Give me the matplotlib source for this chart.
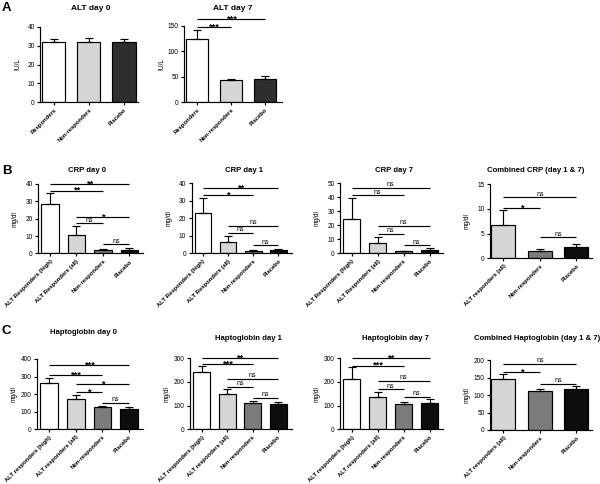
import matplotlib
matplotlib.use('Agg')
import matplotlib.pyplot as plt
import numpy as np

plt.rcParams['font.family'] = ['Liberation Sans', 'DejaVu Sans']

W, H = 600, 484
fig = plt.figure(figsize=(6, 4.84), dpi=100)

# ---------------- data ----------------
alt_groups = ["Responders", "Non-responders", "Placebo"]
alt_day0 = [31.7, 32.1, 31.7]
alt_day0_sem = [1.9, 1.9, 1.9]
alt_day7 = [125, 43, 45]
alt_day7_sem = [18, 2, 6]
sig_alt_day7 = [(0, 2, 163, '***'), (0, 1, 148.6, '***')]

grp4_crp = ["ALT Responders (high)", "ALT Responders (all)", "Non-responders", "Placebo"]
grp4_hap = ["ALT responders (high)", "ALT responders (all)", "Non-responders", "Placebo"]
grp3 = ["ALT responders (all)", "Non-responders", "Placebo"]

crp_day0 = [28.4, 10.7, 2.3, 2.0]
crp_day0_sem = [6.3, 5.2, 0.4, 1.4]
sig_crp_day0 = [(0, 3, 39.9, '**'), (0, 2, 36.2, '**'), (1, 3, 21.1, '*'),
                (1, 2, 17.5, 'ns'), (2, 3, 5.4, 'ns')]

crp_day1 = [23.2, 6.3, 1.3, 1.9]
crp_day1_sem = [8.6, 3.6, 0.5, 0.4]
sig_crp_day1 = [(0, 3, 37.1, '**'), (0, 2, 33.1, '*'), (1, 3, 15.6, 'ns'),
                (1, 2, 11.8, 'ns'), (2, 3, 4.6, 'ns')]

crp_day7 = [24.8, 7.6, 1.4, 2.7]
crp_day7_sem = [14.9, 4.3, 0.6, 0.8]
sig_crp_day7 = [(0, 3, 46.9, 'ns'), (0, 2, 41.6, 'ns'), (1, 3, 19.7, 'ns'),
                (1, 2, 13.8, 'ns'), (2, 3, 5.7, 'ns')]

crp_comb = [6.8, 1.5, 2.35]
crp_comb_sem = [2.9, 0.3, 0.45]
sig_crp_comb = [(0, 2, 12.4, 'ns'), (0, 1, 10.1, '*'), (1, 2, 4.3, 'ns')]

hap_day0 = [261, 170, 127, 115]
hap_day0_sem = [32, 28, 6, 12]
sig_hap_day0 = [(0, 3, 365, '***'), (0, 2, 310, '***'), (1, 3, 256, '*'),
                (1, 2, 210, '*'), (2, 3, 151, 'ns')]

hap_day1 = [241, 149, 110, 105]
hap_day1_sem = [26, 21, 9, 9]
sig_hap_day1 = [(0, 3, 302, '**'), (0, 2, 274.6, '***'), (1, 3, 212.5, 'ns'),
                (1, 2, 180, 'ns'), (2, 3, 133.5, 'ns')]

hap_day7 = [211, 138, 107, 112]
hap_day7_sem = [52, 18, 8, 14]
sig_hap_day7 = [(0, 3, 300, '**'), (0, 2, 269, '***'), (1, 3, 205, 'ns'),
                (1, 2, 169, 'ns'), (2, 3, 138, 'ns')]

hap_comb = [145, 111, 117]
hap_comb_sem = [14, 6, 9]
sig_hap_comb = [(0, 2, 190, 'ns'), (0, 1, 165, '*'), (1, 2, 132, 'ns')]

# ---------------- styles ----------------
WHITE, LGRAY, MGRAY, BLACK, DGRAY = '#ffffff', '#d5d5d5', '#7b7b7b', '#0d0d0d', '#2e2e2e'
col_alt = [WHITE, LGRAY, DGRAY]
col4 = [WHITE, LGRAY, MGRAY, BLACK]
col3 = [LGRAY, MGRAY, BLACK]

LW = 0.85


def add_ax(l, r, t, b):
    return fig.add_axes([l / W, 1 - b / H, (r - l) / W, (b - t) / H])


def draw_panel(box, vals, sems, labels, colors, ylim, yticks, ylabel, xlim,
               title, title_xy, sigs=(), title_size=5.6):
    ax = add_ax(*box)
    x = np.arange(len(vals))
    ax.bar(x, vals, width=0.66, color=colors, edgecolor='black', linewidth=LW, zorder=2)
    ax.errorbar(x, vals, yerr=[np.zeros(len(vals)), sems], fmt='none', ecolor='black',
                elinewidth=LW, capsize=3.2, capthick=LW, zorder=3)
    ax.set_xlim(*xlim)
    ax.set_ylim(*ylim)
    ax.set_yticks(yticks)
    ax.set_yticklabels([str(v) for v in yticks], fontsize=4.7)
    ax.set_xticks(x)
    ax.set_xticklabels(labels, rotation=45, ha='right', rotation_mode='anchor',
                       fontsize=4.2, fontweight='bold')
    for s in ('top', 'right'):
        ax.spines[s].set_visible(False)
    for s in ('left', 'bottom'):
        ax.spines[s].set_linewidth(LW)
    ax.tick_params(direction='out', length=2.3, width=LW, pad=1.5)
    ax.tick_params(axis='x', pad=1.5)
    wpx = box[1] - box[0]
    ax.set_ylabel(ylabel, fontsize=4.7)
    ax.yaxis.set_label_coords(-19.0 / wpx, 0.5)
    for i, j, y, lab in sigs:
        ax.plot([i, j], [y, y], color='black', lw=LW, clip_on=False, zorder=4,
                solid_capstyle='butt')
        if lab == 'ns':
            ax.annotate(lab, xy=((i + j) / 2, y), xytext=(0, 1.1), textcoords='offset points',
                        ha='center', va='baseline', fontsize=5.0, annotation_clip=False)
        else:
            ax.annotate(lab, xy=((i + j) / 2, y), xytext=(0, -1.7), textcoords='offset points',
                        ha='center', va='baseline', fontsize=6.8, fontweight='bold',
                        annotation_clip=False)
    fig.text(title_xy[0] / W, 1 - title_xy[1] / H, title, ha='center', va='center',
             fontsize=title_size, fontweight='bold')
    return ax


XL4 = (-0.45, 3.52)
XL3 = (-0.37, 2.42)

# Panel A
draw_panel((40, 138, 26.7, 102.3), alt_day0, alt_day0_sem, alt_groups, col_alt,
           (0, 40), [0, 10, 20, 30, 40], 'IU/L', (-0.39, 2.4), 'ALT day 0', (91, 9),
           title_size=6.0)
draw_panel((184, 282, 26, 102.3), alt_day7, alt_day7_sem, alt_groups, col_alt,
           (0, 150), [0, 50, 100, 150], 'IU/L', (-0.38, 2.5), 'ALT day 7', (233, 8),
           sigs=sig_alt_day7, title_size=6.0)

# Panel B
draw_panel((38, 143, 184, 253.5), crp_day0, crp_day0_sem, grp4_crp, col4,
           (0, 40), [0, 10, 20, 30, 40], 'mg/dl', XL4, 'CRP day 0', (87, 171),
           sigs=sig_crp_day0)
draw_panel((191.5, 291.5, 183.3, 253.3), crp_day1, crp_day1_sem, grp4_crp, col4,
           (0, 40), [0, 10, 20, 30, 40], 'mg/dl', XL4, 'CRP day 1', (244, 171),
           sigs=sig_crp_day1)
draw_panel((340, 443, 183.3, 253.3), crp_day7, crp_day7_sem, grp4_crp, col4,
           (0, 50), [0, 10, 20, 30, 40, 50], 'mg/dl', XL4, 'CRP day 7', (394, 171),
           sigs=sig_crp_day7)
draw_panel((490, 591.5, 184.3, 258.3), crp_comb, crp_comb_sem, grp3, col3,
           (0, 15), [0, 5, 10, 15], 'mg/dl', XL3, 'Combined CRP (day 1 & 7)', (536, 171),
           sigs=sig_crp_comb)

# Panel C
draw_panel((37, 143, 359, 429.3), hap_day0, hap_day0_sem, grp4_hap, col4,
           (0, 400), [0, 100, 200, 300, 400], 'mg/dl', XL4, 'Haptoglobin day 0', (83, 332),
           sigs=sig_hap_day0)
draw_panel((190, 291.5, 358.3, 429.3), hap_day1, hap_day1_sem, grp4_hap, col4,
           (0, 300), [0, 100, 200, 300], 'mg/dl', XL4, 'Haptoglobin day 1', (248, 338),
           sigs=sig_hap_day1)
draw_panel((340, 443, 358.3, 429.3), hap_day7, hap_day7_sem, grp4_hap, col4,
           (0, 300), [0, 100, 200, 300], 'mg/dl', XL4, 'Haptoglobin day 7', (395, 338),
           sigs=sig_hap_day7)
draw_panel((490, 591.5, 360, 430), hap_comb, hap_comb_sem, grp3, col3,
           (0, 200), [0, 50, 100, 150, 200], 'mg/dl', XL3,
           'Combined Haptoglobin (day 1 & 7)', (537, 338), sigs=sig_hap_comb)

# Panel letters
for letter, (lx, ly) in zip(['A', 'B', 'C'], [(2, 8), (2, 171), (2, 331)]):
    fig.text(lx / W, 1 - ly / H, letter, ha='left', va='center', fontsize=9.5,
             fontweight='bold')

fig.savefig('out.png', dpi=100)
